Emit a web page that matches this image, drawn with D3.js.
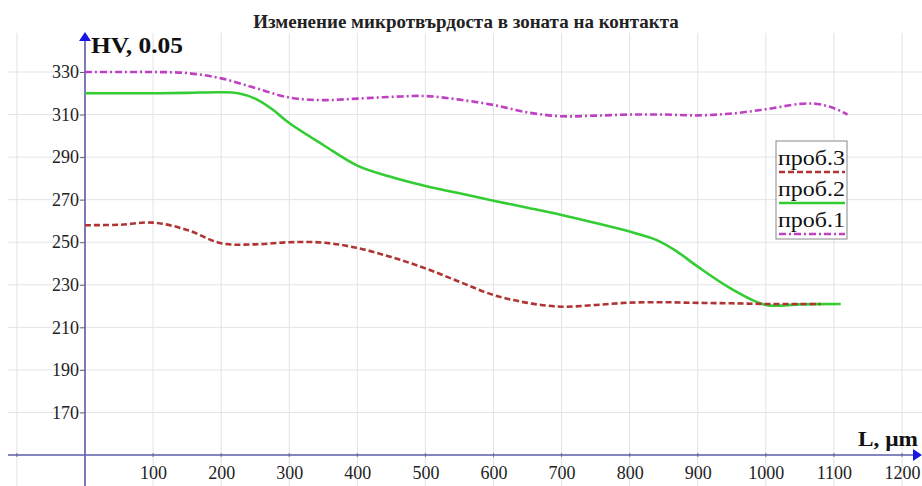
<!DOCTYPE html>
<html>
<head>
<meta charset="utf-8">
<script src="https://cdn.jsdelivr.net/npm/d3@7"></script>
<style>
  html, body { margin: 0; padding: 0; background: #fff; }
  svg { display: block; }
  svg text { font-family: "Liberation Serif", "DejaVu Serif", serif; fill: #222; }
</style>
</head>
<body>
<svg id="chart" width="922" height="486"></svg>
<script>
// Microhardness HV0.05 versus distance L (µm) from the contact zone
const title = "Изменение микротвърдоста в зоната на контакта";
const yLabel = "HV, 0.05";
const xLabel = "L, µm";

const xTicks = [100, 200, 300, 400, 500, 600, 700, 800, 900, 1000, 1100, 1200];
const yTicks = [170, 190, 210, 230, 250, 270, 290, 310, 330];

// sample 1 (проб.1)
const L1  = [0, 50, 100, 150, 200, 250, 300, 350, 400, 450, 500, 550, 600, 650, 700, 750, 800, 850, 900, 950, 1000, 1050, 1075, 1100, 1120];
const hv1 = [330, 330, 330, 329.5, 327, 322.5, 318, 316.8, 317.5, 318.3, 318.7, 317, 314.5, 311, 309.2, 309.5, 310, 310, 309.6, 310.5, 312.5, 315, 315, 313, 310];

// sample 2 (проб.2)
const L2  = [0, 50, 100, 150, 200, 225, 250, 275, 300, 350, 400, 450, 500, 550, 600, 650, 700, 750, 800, 840, 870, 900, 950, 1000, 1050, 1110];
const hv2 = [320, 320, 320, 320.2, 320.5, 320, 317.5, 312.5, 306, 295.7, 286, 280.6, 276.4, 273, 269.5, 266.2, 262.8, 259, 255, 251, 245.5, 238.5, 228, 220.5, 220.8, 221];

// sample 3 (проб.3)
const L3  = [0, 50, 100, 150, 200, 250, 300, 350, 400, 450, 500, 550, 600, 650, 700, 750, 800, 850, 900, 950, 1000, 1050, 1080];
const hv3 = [258, 258.2, 259.2, 255.8, 249.5, 249, 250, 249.8, 247.3, 243, 237.7, 231.4, 225.2, 221.5, 219.7, 220.5, 221.6, 221.8, 221.5, 221.3, 221, 221, 221];

const legendNames = ["проб.3", "проб.2", "проб.1"];

const series = [
  { name: "проб.1", L: L1, hv: hv1, color: "#c040c4", dash: "7,3,2,3" },
  { name: "проб.2", L: L2, hv: hv2, color: "#33cc33", dash: null },
  { name: "проб.3", L: L3, hv: hv3, color: "#b03434", dash: "6,3" }
];

const svg = d3.select("#chart");
const W = 922, H = 486;
const serif = "'Liberation Serif', 'DejaVu Serif', serif";

const x = d3.scaleLinear().domain([0, 1200]).range([85, 902]);
const y = d3.scaleLinear().domain([150, 330]).range([455, 72]);

const gridColor = "#e3e3e8";
const axisColor = "#5c5cae";
const arrowColor = "#1818e0";

// grid
const grid = svg.append("g");
d3.range(-100, 1201, 100).forEach(v => {
  grid.append("line")
    .attr("x1", x(v)).attr("x2", x(v))
    .attr("y1", 33).attr("y2", H)
    .attr("stroke", gridColor).attr("stroke-width", 1);
});
yTicks.forEach(v => {
  grid.append("line")
    .attr("x1", 8).attr("x2", W)
    .attr("y1", y(v)).attr("y2", y(v))
    .attr("stroke", gridColor).attr("stroke-width", 1);
});

// axes
const xAxis = d3.axisBottom(x).tickValues(xTicks).tickFormat(d3.format("d")).tickSize(0).tickPadding(11);
const gx = svg.append("g").attr("transform", `translate(0,${y(150)})`).call(xAxis);
gx.attr("font-family", null);
gx.select(".domain").remove();
gx.selectAll("text").style("font-size", "18px").style("font-family", serif).attr("fill", "#222");

const yAxis = d3.axisLeft(y).tickValues(yTicks).tickFormat(d3.format("d")).tickSize(5).tickPadding(1);
const gy = svg.append("g").attr("transform", `translate(${x(0)},0)`).call(yAxis);
gy.attr("font-family", null);
gy.select(".domain").remove();
gy.selectAll("line").attr("stroke", "#666");
gy.selectAll("text").style("font-size", "18px").style("font-family", serif).attr("fill", "#222");

// small ticks across the horizontal axis
xTicks.concat([-100]).forEach(v => {
  svg.append("line")
    .attr("x1", x(v)).attr("x2", x(v))
    .attr("y1", y(150) - 2).attr("y2", y(150) + 2)
    .attr("stroke", "#777").attr("stroke-width", 1);
});

// axis lines with arrow heads
svg.append("line")
  .attr("x1", 8).attr("x2", 916)
  .attr("y1", y(150)).attr("y2", y(150))
  .attr("stroke", axisColor).attr("stroke-width", 1.6);
svg.append("path")
  .attr("d", `M${W},${y(150)} L${W - 9},${y(150) - 6} L${W - 9},${y(150) + 6} Z`)
  .attr("fill", arrowColor);

svg.append("line")
  .attr("x1", x(0)).attr("x2", x(0))
  .attr("y1", 38).attr("y2", H)
  .attr("stroke", axisColor).attr("stroke-width", 1.6);
svg.append("path")
  .attr("d", `M${x(0)},32 L${x(0) - 6},41 L${x(0) + 6},41 Z`)
  .attr("fill", arrowColor);

// curves
const line = d3.line().curve(d3.curveCatmullRom.alpha(0.5));
series.forEach(s => {
  const pts = s.L.map((d, i) => [x(d), y(s.hv[i])]);
  const p = svg.append("path")
    .attr("d", line(pts))
    .attr("fill", "none")
    .attr("stroke", s.color)
    .attr("stroke-width", 2.6)
    .attr("stroke-linejoin", "round");
  if (s.dash) p.attr("stroke-dasharray", s.dash);
});

// labels
svg.append("text")
  .attr("x", 466).attr("y", 28)
  .attr("text-anchor", "middle")
  .style("font-size", "19px").attr("font-weight", "bold")
  .text(title);

svg.append("text")
  .attr("x", 91).attr("y", 53)
  .attr("textLength", 92).attr("lengthAdjust", "spacingAndGlyphs")
  .style("font-size", "23px").attr("font-weight", "bold")
  .style("fill", "#111")
  .text(yLabel);

svg.append("text")
  .attr("x", 858).attr("y", 446)
  .attr("textLength", 60).attr("lengthAdjust", "spacingAndGlyphs")
  .style("font-size", "21px").attr("font-weight", "bold")
  .style("fill", "#111")
  .text(xLabel);

// legend
const lg = svg.append("g").attr("transform", "translate(776,141)");
lg.append("rect")
  .attr("x", 0).attr("y", 0).attr("width", 71).attr("height", 98)
  .attr("fill", "#fff").attr("stroke", "#888").attr("stroke-width", 1);
legendNames.forEach((n, i) => {
  const s = series.find(d => d.name === n);
  const yy = i * 31;
  lg.append("text")
    .attr("x", 2).attr("y", yy + 24)
    .attr("textLength", 67).attr("lengthAdjust", "spacingAndGlyphs")
    .style("font-size", "22px")
    .style("fill", "#111")
    .text(n);
  const l = lg.append("line")
    .attr("x1", 3).attr("x2", 69)
    .attr("y1", yy + 31).attr("y2", yy + 31)
    .attr("stroke", s.color).attr("stroke-width", 2.6);
  if (s.dash) l.attr("stroke-dasharray", s.dash);
});
</script>
</body>
</html>
